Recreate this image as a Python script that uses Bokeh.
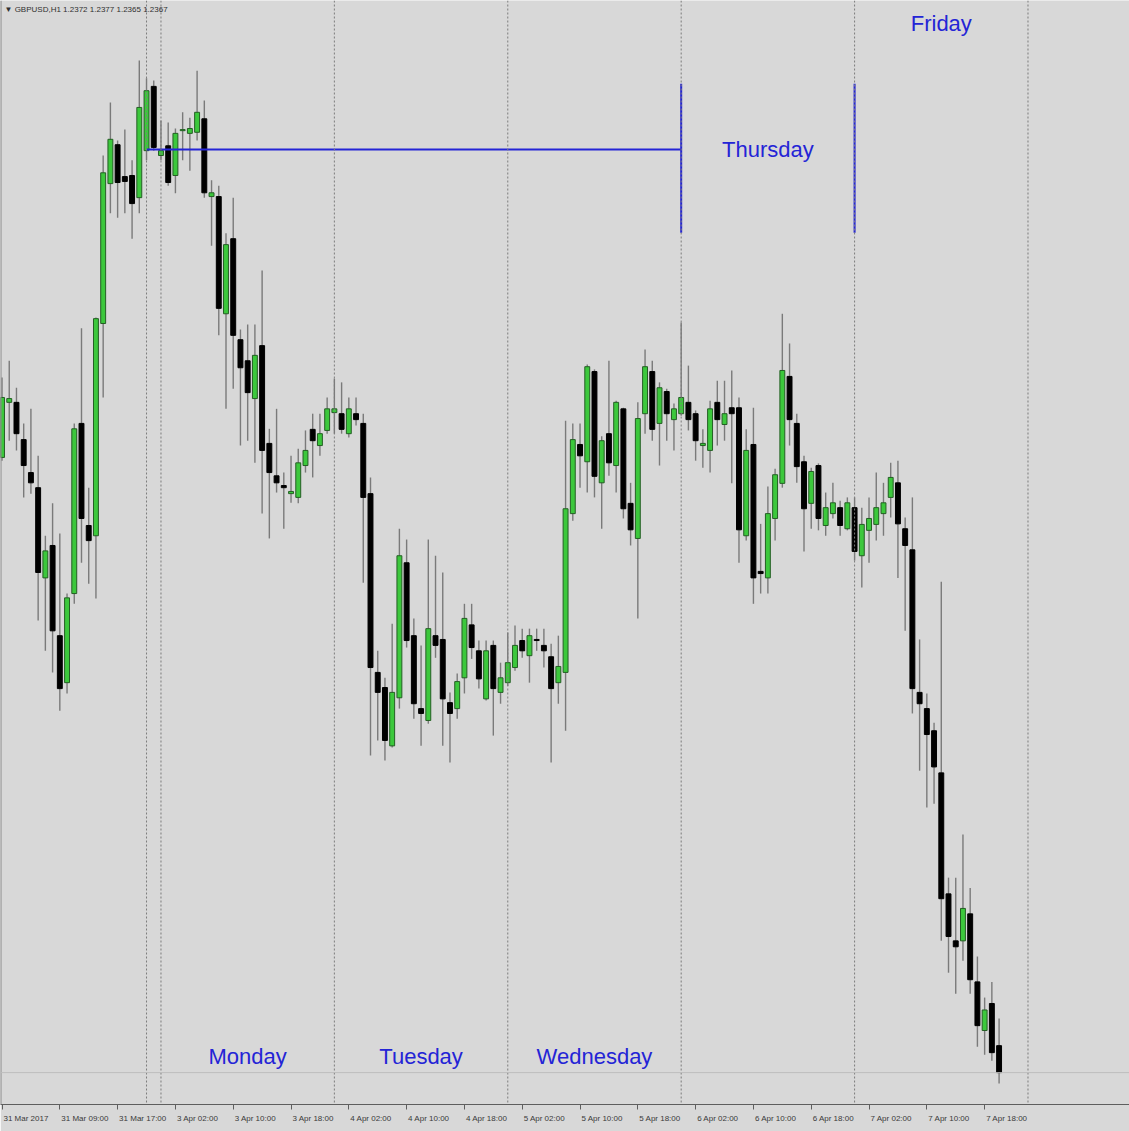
import pandas as pd
from bokeh.plotting import figure
from bokeh.models import ColumnDataSource, Span, Label, FixedTicker, Range1d, LinearAxis
from bokeh.embed import file_html
from bokeh.resources import INLINE
from bokeh.core.properties import value

symbol = "GBPUSD,H1"
# trading sessions: (first bar, number of hourly bars)
sessions = [("2017-03-31 01:00", 20), ("2017-04-02 22:00", 119)]

opens = [1.24809, 1.24911, 1.24911, 1.24842, 1.24781, 1.24753, 1.24586, 1.24646, 1.24479, 1.24392,
         1.24557, 1.24872, 1.24683, 1.24664, 1.25057, 1.25316, 1.25388, 1.25329, 1.25331, 1.25290,
         1.25377, 1.25496, 1.25368, 1.25386, 1.25331, 1.25414, 1.25409, 1.25411, 1.25436, 1.25292,
         1.25292, 1.25075, 1.25214, 1.25027, 1.24988, 1.24918, 1.25016, 1.24835, 1.24775, 1.24757,
         1.24742, 1.24735, 1.24794, 1.24861, 1.24831, 1.24859, 1.24892, 1.24890, 1.24853, 1.24890,
         1.24872, 1.24742, 1.24411, 1.24383, 1.24275, 1.24364, 1.24614, 1.24479, 1.24344, 1.24322,
         1.24479, 1.24472, 1.24355, 1.24344, 1.24401, 1.24499, 1.24451, 1.24362, 1.24461, 1.24374,
         1.24392, 1.24420, 1.24470, 1.24442, 1.24472, 1.24461, 1.24440, 1.24392, 1.24411, 1.24705,
         1.24833, 1.24801, 1.24968, 1.24762, 1.24853, 1.24794, 1.24899, 1.24724, 1.24659, 1.24890,
         1.24968, 1.24872, 1.24931, 1.24879, 1.24890, 1.24911, 1.24890, 1.24831, 1.24822, 1.24911,
         1.24870, 1.24901, 1.24901, 1.24664, 1.24833, 1.24598, 1.24586, 1.24696, 1.24761, 1.24959,
         1.24872, 1.24801, 1.24724, 1.24794, 1.24683, 1.24705, 1.24716, 1.24677, 1.24716, 1.24627,
         1.24674, 1.24685, 1.24705, 1.24735, 1.24762, 1.24677, 1.24638, 1.24374, 1.24344, 1.24303,
         1.24225, 1.24001, 1.23914, 1.23914, 1.23964, 1.23838, 1.23748, 1.23798, 1.23720]

highs = [1.24957, 1.24988, 1.24938, 1.24872, 1.24899, 1.24812, 1.24664, 1.24724, 1.24668, 1.24557,
         1.24872, 1.25048, 1.24753, 1.25068, 1.25368, 1.25466, 1.25396, 1.25416, 1.25359, 1.25544,
         1.25511, 1.25507, 1.25433, 1.25429, 1.25418, 1.25448, 1.25438, 1.25525, 1.25470, 1.25322,
         1.25312, 1.25224, 1.25290, 1.25046, 1.25055, 1.25055, 1.25155, 1.24862, 1.24899, 1.24781,
         1.24812, 1.24825, 1.24859, 1.24890, 1.24890, 1.24920, 1.24955, 1.24948, 1.24920, 1.24920,
         1.24890, 1.24772, 1.24451, 1.24401, 1.24501, 1.24677, 1.24657, 1.24511, 1.24461, 1.24657,
         1.24627, 1.24596, 1.24374, 1.24409, 1.24538, 1.24538, 1.24470, 1.24470, 1.24470, 1.24429,
         1.24485, 1.24498, 1.24492, 1.24492, 1.24492, 1.24492, 1.24464, 1.24479, 1.24877, 1.24872,
         1.24872, 1.24981, 1.24972, 1.24848, 1.24988, 1.24914, 1.24901, 1.24762, 1.24911, 1.25009,
         1.24988, 1.24948, 1.24936, 1.24909, 1.25059, 1.24979, 1.24896, 1.24861, 1.24914, 1.24951,
         1.24951, 1.24970, 1.24920, 1.24861, 1.24901, 1.24686, 1.24755, 1.24788, 1.25075, 1.25020,
         1.24890, 1.24812, 1.24790, 1.24798, 1.24744, 1.24762, 1.24729, 1.24735, 1.24735, 1.24716,
         1.24735, 1.24781, 1.24762, 1.24799, 1.24803, 1.24698, 1.24735, 1.24472, 1.24372, 1.24318,
         1.24579, 1.24031, 1.24031, 1.24111, 1.24012, 1.23885, 1.23809, 1.23838, 1.23770]

lows = [1.24803, 1.24840, 1.24822, 1.24735, 1.24742, 1.24507, 1.24451, 1.24411, 1.24340, 1.24372,
        1.24538, 1.24614, 1.24575, 1.24548, 1.24920, 1.25261, 1.25253, 1.25261, 1.25214, 1.25261,
        1.25359, 1.25377, 1.25359, 1.25312, 1.25298, 1.25359, 1.25340, 1.25396, 1.25290, 1.25201,
        1.25035, 1.24899, 1.24936, 1.24831, 1.24840, 1.24799, 1.24705, 1.24659, 1.24744, 1.24677,
        1.24725, 1.24724, 1.24781, 1.24772, 1.24812, 1.24853, 1.24853, 1.24853, 1.24846, 1.24868,
        1.24577, 1.24257, 1.24285, 1.24248, 1.24272, 1.24344, 1.24457, 1.24325, 1.24275, 1.24316,
        1.24438, 1.24275, 1.24244, 1.24325, 1.24372, 1.24436, 1.24381, 1.24359, 1.24294, 1.24353,
        1.24386, 1.24414, 1.24438, 1.24392, 1.24451, 1.24420, 1.24244, 1.24353, 1.24303, 1.24692,
        1.24753, 1.24744, 1.24735, 1.24677, 1.24775, 1.24744, 1.24696, 1.24646, 1.24511, 1.24853,
        1.24840, 1.24794, 1.24840, 1.24822, 1.24886, 1.24859, 1.24803, 1.24790, 1.24781, 1.24831,
        1.24840, 1.24761, 1.24614, 1.24655, 1.24538, 1.24557, 1.24557, 1.24655, 1.24753, 1.24831,
        1.24762, 1.24635, 1.24677, 1.24674, 1.24664, 1.24696, 1.24664, 1.24674, 1.24618, 1.24568,
        1.24614, 1.24655, 1.24664, 1.24698, 1.24586, 1.24488, 1.24335, 1.24229, 1.24161, 1.24168,
        1.23914, 1.23855, 1.23816, 1.23877, 1.23816, 1.23718, 1.23703, 1.23692, 1.23650]

closes = [1.24920, 1.24918, 1.24853, 1.24794, 1.24762, 1.24596, 1.24636, 1.24488, 1.24381, 1.24549,
          1.24862, 1.24696, 1.24655, 1.25066, 1.25336, 1.25398, 1.25318, 1.25320, 1.25279, 1.25457,
          1.25488, 1.25383, 1.25377, 1.25318, 1.25409, 1.25416, 1.25418, 1.25448, 1.25299, 1.25299,
          1.25085, 1.25203, 1.25035, 1.24975, 1.24929, 1.24998, 1.24822, 1.24781, 1.24762, 1.24753,
          1.24746, 1.24799, 1.24822, 1.24840, 1.24853, 1.24899, 1.24899, 1.24861, 1.24899, 1.24879,
          1.24735, 1.24420, 1.24374, 1.24285, 1.24374, 1.24627, 1.24470, 1.24353, 1.24335, 1.24492,
          1.24461, 1.24362, 1.24335, 1.24394, 1.24511, 1.24457, 1.24399, 1.24451, 1.24381, 1.24401,
          1.24429, 1.24461, 1.24451, 1.24479, 1.24470, 1.24451, 1.24381, 1.24422, 1.24714, 1.24842,
          1.24812, 1.24977, 1.24774, 1.24840, 1.24799, 1.24911, 1.24714, 1.24675, 1.24881, 1.24977,
          1.24861, 1.24938, 1.24890, 1.24899, 1.24920, 1.24879, 1.24840, 1.24835, 1.24899, 1.24879,
          1.24890, 1.24890, 1.24675, 1.24822, 1.24586, 1.24594, 1.24705, 1.24777, 1.24970, 1.24879,
          1.24792, 1.24714, 1.24783, 1.24696, 1.24716, 1.24725, 1.24683, 1.24725, 1.24635, 1.24685,
          1.24696, 1.24716, 1.24725, 1.24772, 1.24686, 1.24646, 1.24381, 1.24353, 1.24296, 1.24236,
          1.23992, 1.23922, 1.23903, 1.23974, 1.23842, 1.23757, 1.23786, 1.23707, 1.23670]

tick_every = 8
tick_labels = ["31 Mar 2017", "31 Mar 09:00", "31 Mar 17:00", "3 Apr 02:00", "3 Apr 10:00",
               "3 Apr 18:00", "4 Apr 02:00", "4 Apr 10:00", "4 Apr 18:00", "5 Apr 02:00",
               "5 Apr 10:00", "5 Apr 18:00", "6 Apr 02:00", "6 Apr 10:00", "6 Apr 18:00",
               "7 Apr 02:00", "7 Apr 10:00", "7 Apr 18:00"]

day_names = ["Monday", "Tuesday", "Wednesday", "Thursday", "Friday"]
day_dates = ["2017-04-03", "2017-04-04", "2017-04-05", "2017-04-06", "2017-04-07"]
day_label_prices = [1.23699, 1.23699, 1.23699, 1.25379, 1.25612]

level_price = 1.25379
level_from = "2017-04-02 22:00"
level_to = "2017-04-06 00:00"
marker_times = ["2017-04-06 00:00", "2017-04-07 00:00"]
marker_low, marker_high = 1.25225, 1.25501

# ---------------------------------------------------------------- styling
BG = "#d8d8d8"
BULL = "#3cc83c"
BULL_EDGE = "#245f24"
BEAR = "#000000"
WICK = "#7a7a7a"
BLUE = "#2424d6"
AXIS = "#5e5e5e"
FRAME_W, FRAME_H = 1129, 1104
X0, X1 = -0.21, 156.05
LABEL_PX = 8

times = []
for start, n in sessions:
    times += list(pd.date_range(start, periods=n, freq="h"))
idx = list(range(len(times)))
pos = {t: i for i, t in enumerate(times)}

src = ColumnDataSource(dict(
    x=idx, o=opens, h=highs, l=lows, c=closes,
    top=[max(a, b) for a, b in zip(opens, closes)],
    bot=[min(a, b) for a, b in zip(opens, closes)],
    fill=[BULL if c >= o else BEAR for o, c in zip(opens, closes)],
    edge=[BULL_EDGE if c >= o else BEAR for o, c in zip(opens, closes)],
))

p = figure(frame_width=FRAME_W, frame_height=FRAME_H,
           x_range=Range1d(X0, X1), y_range=Range1d(1.23611, 1.25655),
           output_backend="svg", toolbar_location=None,
           min_border_left=0, min_border_right=0, min_border_top=0, min_border_bottom=27,
           background_fill_color=BG, border_fill_color=BG, outline_line_color=None)
p.styles = {"position": "absolute", "left": "0px", "top": "0px"}
p.grid.visible = False
p.yaxis.visible = False

# day separators
seps = [i for i in idx[1:] if times[i].date() != times[i - 1].date()]
last = times[-1]
seps.append(idx[-1] + (24 - last.hour))
for s in seps:
    p.add_layout(Span(location=s, dimension="height", line_color="#7c7c7c",
                      line_dash="2 2", line_width=1))

# left chart border
p.add_layout(Span(location=X0, dimension="height", line_color="#8a8a8a", line_width=2))

# bid line
p.add_layout(Span(location=closes[-1], dimension="width", line_color="#bdbdbd", line_width=1))

# candles
p.segment(x0="x", y0="h", x1="x", y1="l", source=src, line_color=WICK, line_width=1.4)
p.vbar(x="x", width=0.68, top="top", bottom="bot", source=src,
       fill_color="fill", line_color="edge", line_width=1)

# blue annotations
p.segment(x0=[pos[pd.Timestamp(level_from)]], y0=[level_price],
          x1=[pos[pd.Timestamp(level_to)]], y1=[level_price], line_color=BLUE, line_width=2)
mx = [pos[pd.Timestamp(t)] for t in marker_times]
p.segment(x0=mx, y0=[marker_low] * 2, x1=mx, y1=[marker_high] * 2, line_color=BLUE, line_width=2)

day_x = [pos[pd.Timestamp(d + " 12:00")] for d in day_dates]
p.text(x=day_x, y=day_label_prices, text=day_names, text_font=value("Liberation Sans"),
       text_font_size="22px", text_color=BLUE, text_align="center", text_baseline="middle")

# header
p.add_layout(Label(x=4, y=1095, x_units="screen", y_units="screen",
                   text="\u25bc " + symbol + "  " + " ".join(f"{v:.4f}" for v in
                        (opens[-1], highs[-1], lows[-1], closes[-1])),
                   text_font="Liberation Sans", text_font_size="8px",
                   text_color="#303030", text_baseline="middle"))

# x axis, part 1: axis line + tick marks at the bars
ticks = list(range(0, len(times), tick_every))
p.xaxis.ticker = FixedTicker(ticks=ticks)
p.xaxis.major_label_overrides = {t: "" for t in ticks}
p.xaxis.major_label_text_font_size = "1px"
p.xaxis.major_label_standoff = 0
p.xaxis.axis_line_color = AXIS
p.xaxis.major_tick_line_color = AXIS
p.xaxis.major_tick_out = 5
p.xaxis.major_tick_in = 0
p.xaxis.minor_tick_out = 0
p.xaxis.minor_tick_in = 0

# x axis, part 2: labels that start at their tick (terminal style)
def text_w(s):
    em = {" ": .278, ":": .278, "M": .833, "A": .667, "a": .556, "r": .333, "p": .556}
    return sum(em.get(ch, .556) for ch in s) * LABEL_PX

px_per_unit = FRAME_W / (X1 - X0)
centers = [t + (1.5 + text_w(lab) / 2) / px_per_unit for t, lab in zip(ticks, tick_labels)]
lab_axis = LinearAxis(ticker=FixedTicker(ticks=centers),
                      major_label_overrides={c: lab for c, lab in zip(centers, tick_labels)},
                      axis_line_color=None, major_tick_line_color=None,
                      major_tick_out=0, major_tick_in=0, minor_tick_out=0, minor_tick_in=0,
                      major_label_standoff=4,
                      major_label_text_font="Liberation Sans",
                      major_label_text_font_size=f"{LABEL_PX}px",
                      major_label_text_color="#3a3a3a")
p.add_layout(lab_axis, "below")

open("out.html", "w").write(file_html(p, INLINE))
